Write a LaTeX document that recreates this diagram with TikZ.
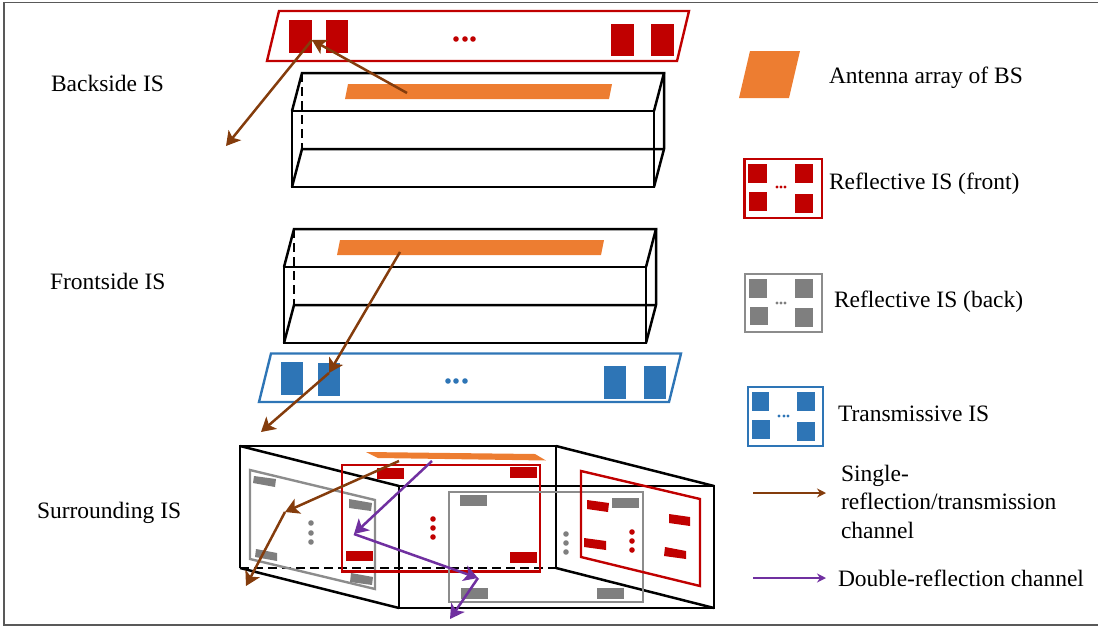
\documentclass[tikz,border=0pt]{standalone}
\usepackage{fontspec}
\setmainfont{Liberation Serif}
\usetikzlibrary{arrows.meta}
\definecolor{cred}{HTML}{C00000}
\definecolor{cgray}{HTML}{7F7F7F}
\definecolor{cblue}{HTML}{2E75B6}
\definecolor{corange}{HTML}{ED7D31}
\definecolor{cbrown}{HTML}{843C0C}
\definecolor{cpurple}{HTML}{7030A0}
\tikzset{
  edge/.style={draw=black,line width=2.5pt,line join=miter},
  edgedash/.style={draw=black,line width=2.8pt,dash pattern=on 9pt off 5pt},
  panelR/.style={draw=cred,line width=2.4pt},
  panelG/.style={draw=cgray!90,line width=2.4pt},
  panelB/.style={draw=cblue,line width=2.4pt},
  fillR/.style={fill=cred},
  fillG/.style={fill=cgray},
  fillB/.style={fill=cblue},
  fillO/.style={fill=corange},
  ray/.style={line width=2.5pt,-{Stealth[length=14pt,width=16pt,inset=3.5pt]}},
  brownray/.style={ray,draw=cbrown,color=cbrown},
  purpleray/.style={ray,draw=cpurple,color=cpurple},
  legendray/.style={line width=2.1pt,-{Stealth[length=9pt,width=9pt]}},
  lab/.style={anchor=base west,inner sep=0pt,outer sep=0pt,font=\fontsize{23.5}{28}\selectfont,text=black},
}
\begin{document}
\begin{tikzpicture}[x=1pt,y=-1pt]
\useasboundingbox (0,0) rectangle (1098,627);
% frame
\draw[line width=1.4pt,draw=black!65] (1098,2.5) -- (4,2.5) -- (4,625) -- (1098,625);

% ---------- Backside IS
\draw[panelR] (279,11) -- (689,11) -- (677,61) -- (267,61) -- cycle;
\foreach \a/\b/\c/\d in {289/20/312/53,326/20/348/53,611/24/634/56,651/24/674/56}
  \fill[fillR] (\a,\b) rectangle (\c,\d);
\foreach \x in {456,465,473} \fill[fillR] (\x,39) circle (2.8);
\draw[edge] (292,111) rectangle (654,187);
\draw[edge] (292,111) -- (302,73) -- (664,73) -- (654,111);
\draw[edge] (664,73) -- (664,149) -- (654,187);
\draw[edge] (292,187) -- (302,149) -- (664,149);
\draw[edgedash] (302,73) -- (302,149);
\fill[fillO] (348,84) -- (612,84) -- (609,99) -- (345,99) -- cycle;
\coordinate (b0) at (407,93);
\coordinate (b1) at (312,40);
\coordinate (b2) at (226,146);
\draw[brownray] (b0) -- (b1);
\draw[brownray] (b1) -- (b2);

% ---------- Frontside IS
\draw[edge] (284,267) rectangle (646,343);
\draw[edge] (284,267) -- (294,229) -- (656,229) -- (646,267);
\draw[edge] (656,229) -- (656,305) -- (646,343);
\draw[edge] (284,343) -- (294,305) -- (656,305);
\draw[edgedash] (294,229) -- (294,305);
\fill[fillO] (340,240) -- (604,240) -- (601,255) -- (337,255) -- cycle;
\draw[panelB] (271,353.5) -- (681,353.5) -- (669,402) -- (259,402) -- cycle;
\foreach \a/\b/\c/\d in {281/362/303/395,318/363/340/396,604/366/626/399,644/366/666/399}
  \fill[fillB] (\a,\b) rectangle (\c,\d);
\foreach \x in {448,456,465} \fill[fillB] (\x,381) circle (2.8);
\coordinate (f0) at (400,252);
\coordinate (f1) at (329,373);
\coordinate (f2) at (261,432);
\draw[brownray] (f0) -- (f1);
\draw[brownray] (f1) -- (f2);

% ---------- Surrounding IS
\draw[edge] (240,568) -- (240,446) -- (556,446) -- (556,568);
\draw[edgedash] (240,568) -- (556,568);
\draw[edge] (399,486) rectangle (714,608);
\draw[edge] (240,446) -- (399,486);
\draw[edge] (240,568) -- (399,608);
\draw[edge] (556,446) -- (714,486);
\draw[edge] (556,568) -- (714,608);
\fill[fillO] (366,452) -- (535,454) -- (546,460.5) -- (378,458) -- cycle;
% left wall
\draw[panelG] (250,470) -- (375,500) -- (375,589) -- (250,559) -- cycle;
\fill[fillG] (254,476) -- (276,479) -- (275,487) -- (253,483) -- cycle;
\fill[fillG] (349,499) -- (372,503) -- (371,511) -- (349,508) -- cycle;
\fill[fillG] (256,549) -- (277,553) -- (277,561) -- (255,557) -- cycle;
\fill[fillG] (351,573) -- (373,577) -- (372,585) -- (350,582) -- cycle;
\foreach \y in {523,533,542} \fill[fillG] (311,\y) circle (2.8);
% back wall (front side)
\draw[panelR] (342,465) rectangle (540,571.5);
\foreach \a/\b/\c/\d in {377/468/404/478.5,510/467/537/478,346/551/373/561,510/552/537/563}
  \fill[fillR] (\a,\b) rectangle (\c,\d);
\foreach \y in {519,528,537} \fill[fillR] (433,\y) circle (2.8);
% front wall
\draw[panelG] (449,492) rectangle (643,602);
\foreach \a/\b/\c/\d in {460/495/487/506,612/498/639/508,461/588/488/599,597/588/624/599}
  \fill[fillG] (\a,\b) rectangle (\c,\d);
\foreach \y in {534,543,552} \fill[fillG] (566,\y) circle (2.8);
% right wall
\draw[panelR] (581,471) -- (700,499) -- (700,586) -- (581,557) -- cycle;
\fill[fillR] (587,500) -- (609,503) -- (608,512) -- (587,509) -- cycle;
\fill[fillR] (669,514) -- (690,517) -- (690,526) -- (669,523) -- cycle;
\fill[fillR] (584,538) -- (606,541) -- (606,550) -- (584,547) -- cycle;
\fill[fillR] (665,547) -- (686,551) -- (686,559) -- (664,556) -- cycle;
\foreach \y in {532,541,550} \fill[fillR] (632,\y) circle (2.8);
% rays
\coordinate (s0) at (399,461);
\coordinate (s1) at (285,512);
\coordinate (s2) at (246,586);
\draw[brownray] (s0) -- (s1);
\draw[brownray] (s1) -- (s2);
\coordinate (d0) at (432,461);
\coordinate (d1) at (354,534);
\coordinate (d2) at (478,578);
\coordinate (d3) at (450,619);
\draw[purpleray] (d0) -- (d1);
\draw[purpleray] (d1) -- (d2);
\draw[purpleray] (d2) -- (d3);

% ---------- Legend
\fill[fillO] (750,51) -- (800,51) -- (789,98) -- (739,98) -- cycle;
\draw[panelR] (744.5,159) rectangle (822,218);
\foreach \a/\b/\c/\d in {748/164/767/183,795/164/813/183,749/192/767/211,795/194/813/213}
  \fill[fillR] (\a,\b) rectangle (\c,\d);
\foreach \x in {777,781,785} \fill[fillR] (\x,187) circle (1.7);
\draw[panelG] (745,274) rectangle (822,332);
\foreach \a/\b/\c/\d in {749/279/767/298,795/279/813/298,750/307/768/325,795/308/813/327}
  \fill[fillG] (\a,\b) rectangle (\c,\d);
\foreach \x in {777,781,785} \fill[fillG] (\x,303) circle (1.7);
\draw[panelB] (748,387) rectangle (823,446);
\foreach \a/\b/\c/\d in {752/392/769/411,797/392/815/411,752/420/770/439,797/422/815/441}
  \fill[fillB] (\a,\b) rectangle (\c,\d);
\foreach \x in {779,784,788} \fill[fillB] (\x,416) circle (1.7);
\coordinate (l0) at (753,493);
\coordinate (l1) at (826,493);
\coordinate (l2) at (753,578);
\coordinate (l3) at (826,578);
\draw[legendray,draw=cbrown,color=cbrown] (l0) -- (l1);
\draw[legendray,draw=cpurple,color=cpurple] (l2) -- (l3);

% ---------- Text
\node[lab] (t1) at (51,91) {Backside IS};
\node[lab] (t2) at (50,289) {Frontside IS};
\node[lab] (t3) at (37,518) {Surrounding IS};
\node[lab] (t4) at (829,83) {Antenna array of BS};
\node[lab] (t5) at (829,189) {Reflective IS (front)};
\node[lab] (t6) at (834,307) {Reflective IS (back)};
\node[lab] (t7) at (838,421) {Transmissive IS};
\node[lab] (t8) at (841,481) {Single-};
\node[lab] (t9) at (841,509) {reflection/transmission};
\node[lab] (t10) at (841,538) {channel};
\node[lab] (t11) at (838,586) {Double-reflection channel};
\end{tikzpicture}
\end{document}
